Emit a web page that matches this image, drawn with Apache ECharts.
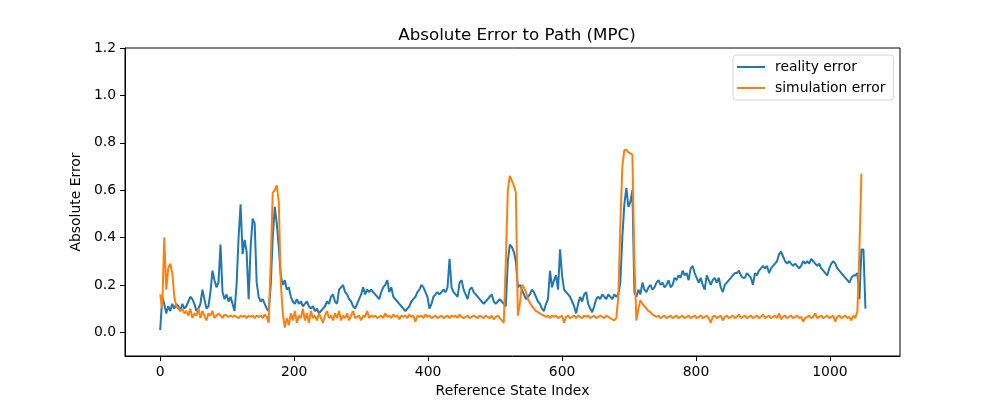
<!DOCTYPE html>
<html>
<head>
<meta charset="utf-8">
<script src="https://cdn.jsdelivr.net/npm/echarts@6/dist/echarts.min.js"></script>
<style>html,body{margin:0;padding:0;background:#fff}#c{width:1000px;height:400px}</style>
</head>
<body>
<div id="c"></div>
<script>
const STEP = 3; // index spacing between sampled points (0,3,6,...)
const xTicks = [0, 200, 400, 600, 800, 1000];
const yTicks = [0.0, 0.2, 0.4, 0.6, 0.8, 1.0, 1.2];
const seriesNames = ['reality error', 'simulation error'];

const realityError = [
0.01,0.15,0.12,0.08,0.11,0.09,0.12,0.10,0.12,0.11,0.09,0.12,0.10,0.11,0.13,0.15,0.14,0.12,0.09,0.10,
0.12,0.18,0.14,0.10,0.11,0.17,0.26,0.22,0.19,0.21,0.37,0.17,0.14,0.16,0.13,0.15,0.12,0.09,0.20,0.40,
0.54,0.33,0.39,0.34,0.14,0.36,0.48,0.46,0.21,0.15,0.13,0.14,0.12,0.10,0.09,0.20,0.40,0.53,0.46,0.36,
0.24,0.20,0.22,0.18,0.19,0.15,0.13,0.12,0.14,0.12,0.13,0.11,0.12,0.13,0.11,0.10,0.11,0.09,0.10,0.08,
0.09,0.10,0.11,0.13,0.12,0.15,0.16,0.13,0.12,0.18,0.19,0.20,0.17,0.16,0.14,0.13,0.11,0.10,0.12,0.14,
0.16,0.19,0.16,0.18,0.17,0.18,0.17,0.16,0.15,0.14,0.17,0.19,0.20,0.22,0.17,0.19,0.15,0.14,0.13,0.12,
0.11,0.10,0.09,0.10,0.11,0.13,0.14,0.15,0.17,0.18,0.20,0.19,0.17,0.15,0.10,0.12,0.15,0.16,0.17,0.16,
0.17,0.18,0.17,0.19,0.31,0.19,0.17,0.16,0.15,0.21,0.22,0.18,0.16,0.14,0.18,0.19,0.17,0.16,0.15,0.14,
0.13,0.12,0.13,0.14,0.15,0.16,0.13,0.12,0.13,0.14,0.13,0.12,0.11,0.30,0.37,0.36,0.34,0.30,0.19,0.20,
0.18,0.16,0.14,0.15,0.16,0.18,0.17,0.15,0.13,0.12,0.10,0.09,0.12,0.14,0.26,0.19,0.22,0.24,0.18,0.35,
0.24,0.18,0.17,0.16,0.15,0.13,0.11,0.08,0.12,0.15,0.13,0.16,0.17,0.12,0.10,0.085,0.11,0.14,0.15,0.14,
0.16,0.15,0.14,0.16,0.15,0.14,0.16,0.15,0.16,0.21,0.40,0.54,0.61,0.53,0.55,0.60,0.17,0.15,0.18,0.16,
0.21,0.18,0.17,0.19,0.20,0.18,0.19,0.21,0.22,0.20,0.21,0.19,0.20,0.22,0.19,0.20,0.23,0.22,0.24,0.23,
0.26,0.24,0.25,0.22,0.27,0.28,0.25,0.23,0.21,0.23,0.20,0.18,0.24,0.22,0.20,0.22,0.23,0.21,0.23,0.19,
0.17,0.20,0.21,0.22,0.23,0.24,0.25,0.25,0.26,0.24,0.23,0.23,0.25,0.24,0.23,0.20,0.25,0.24,0.26,0.27,
0.28,0.27,0.28,0.25,0.27,0.28,0.29,0.30,0.33,0.34,0.32,0.30,0.29,0.30,0.29,0.28,0.29,0.28,0.27,0.28,
0.30,0.29,0.30,0.29,0.31,0.30,0.29,0.28,0.29,0.27,0.26,0.25,0.24,0.27,0.29,0.30,0.29,0.27,0.26,0.25,
0.24,0.23,0.22,0.21,0.23,0.24,0.24,0.25,0.14,0.35,0.35,0.10
];

const simulationError = [
0.16,0.10,0.40,0.18,0.27,0.29,0.25,0.15,0.11,0.10,0.09,0.10,0.08,0.09,0.07,0.10,0.06,0.08,0.07,0.10,
0.06,0.09,0.07,0.05,0.08,0.07,0.09,0.06,0.07,0.08,0.07,0.06,0.075,0.07,0.065,0.07,0.065,0.07,0.065,0.06,
0.07,0.065,0.07,0.06,0.07,0.065,0.07,0.06,0.07,0.065,0.07,0.06,0.075,0.065,0.04,0.30,0.59,0.60,0.62,0.55,
0.21,0.08,0.02,0.06,0.03,0.08,0.05,0.09,0.04,0.07,0.06,0.10,0.05,0.08,0.04,0.09,0.06,0.07,0.05,0.08,
0.06,0.04,0.07,0.09,0.06,0.07,0.05,0.08,0.06,0.09,0.05,0.07,0.06,0.08,0.05,0.07,0.09,0.06,0.065,0.07,
0.05,0.07,0.065,0.09,0.06,0.07,0.065,0.07,0.06,0.065,0.07,0.06,0.08,0.065,0.07,0.06,0.075,0.065,0.07,0.055,
0.07,0.065,0.07,0.06,0.075,0.065,0.07,0.045,0.07,0.065,0.07,0.06,0.075,0.065,0.07,0.06,0.065,0.07,0.06,0.065,
0.07,0.06,0.065,0.07,0.06,0.07,0.065,0.07,0.06,0.075,0.065,0.06,0.065,0.07,0.06,0.065,0.07,0.065,0.06,0.07,
0.065,0.06,0.07,0.065,0.06,0.07,0.055,0.065,0.07,0.06,0.05,0.04,0.30,0.60,0.66,0.64,0.62,0.59,0.07,0.12,
0.20,0.19,0.17,0.14,0.125,0.11,0.10,0.09,0.085,0.08,0.075,0.07,0.065,0.07,0.06,0.07,0.065,0.07,0.06,0.065,
0.07,0.04,0.065,0.07,0.06,0.065,0.07,0.06,0.07,0.065,0.06,0.07,0.065,0.07,0.06,0.065,0.07,0.06,0.065,0.07,
0.065,0.06,0.07,0.065,0.06,0.055,0.05,0.06,0.15,0.45,0.70,0.77,0.77,0.76,0.755,0.75,0.30,0.05,0.10,0.135,
0.12,0.11,0.10,0.09,0.085,0.075,0.07,0.065,0.07,0.06,0.065,0.07,0.06,0.065,0.07,0.06,0.065,0.07,0.06,0.065,
0.07,0.06,0.065,0.07,0.06,0.065,0.07,0.06,0.065,0.07,0.06,0.065,0.07,0.06,0.04,0.065,0.07,0.06,0.065,0.07,
0.05,0.065,0.07,0.06,0.065,0.07,0.06,0.065,0.075,0.06,0.065,0.07,0.06,0.065,0.07,0.06,0.065,0.07,0.06,0.065,
0.075,0.06,0.065,0.07,0.06,0.065,0.07,0.06,0.08,0.055,0.065,0.07,0.06,0.065,0.07,0.06,0.065,0.07,0.06,0.065,
0.045,0.06,0.065,0.07,0.06,0.065,0.08,0.06,0.065,0.07,0.06,0.065,0.07,0.06,0.065,0.07,0.045,0.065,0.07,0.06,
0.065,0.07,0.06,0.065,0.05,0.07,0.06,0.09,0.35,0.67
];

const toPairs = arr => arr.map((v, i) => [i * STEP, v]);
const FONT = 'DejaVu Sans';

const chart = echarts.init(document.getElementById('c'), null, {renderer: 'canvas'});
chart.setOption({
  animation: false,
  backgroundColor: '#fff',
  textStyle: {fontFamily: FONT, color: '#000'},
  title: {
    text: 'Absolute Error to Path (MPC)',
    left: 512, top: 22, textAlign: 'center',
    textStyle: {fontFamily: FONT, fontSize: 16.7, fontWeight: 'normal', color: '#000'}
  },
  legend: {
    orient: 'vertical',
    left: 733, top: 55,
    width: 160,
    padding: [5, 8, 5, 4],
    itemGap: 7,
    itemWidth: 28, itemHeight: 14,
    icon: 'path://M0,6 L28,6 L28,8 L0,8 Z',
    backgroundColor: 'rgba(255,255,255,0.8)',
    borderColor: '#d6d6d6', borderWidth: 1, borderRadius: 3,
    textStyle: {fontFamily: FONT, fontSize: 13.9, color: '#000', padding: [0, 0, 0, 5]},
    data: seriesNames
  },
  grid: {left: 125, right: 100, top: 48, bottom: 44, show: true, borderColor: '#000', borderWidth: 1,
         backgroundColor: 'transparent', containLabel: false, outerBoundsMode: 'none'},
  xAxis: {
    type: 'value', min: -52.6, max: 1104.6,
    name: 'Reference State Index', nameLocation: 'middle', nameGap: 28,
    nameTextStyle: {fontFamily: FONT, fontSize: 13.9, color: '#000'},
    splitLine: {show: false},
    axisLine: {show: true, onZero: false, lineStyle: {color: '#000', width: 1}},
    axisTick: {show: true, length: 5, lineStyle: {color: '#000'}, customValues: xTicks},
    axisLabel: {fontFamily: FONT, fontSize: 13.9, color: '#000', margin: 9, customValues: xTicks, formatter: v => String(v)}
  },
  yAxis: {
    type: 'value', min: -0.1, max: 1.2,
    name: 'Absolute Error', nameLocation: 'middle', nameGap: 37, nameRotate: 90,
    nameTextStyle: {fontFamily: FONT, fontSize: 13.9, color: '#000'},
    splitLine: {show: false},
    axisLine: {show: true, onZero: false, lineStyle: {color: '#000', width: 1}},
    axisTick: {show: true, length: 5, lineStyle: {color: '#000'}, customValues: yTicks},
    axisLabel: {fontFamily: FONT, fontSize: 13.9, color: '#000', margin: 9, customValues: yTicks, formatter: v => Number(v).toFixed(1)}
  },
  series: [
    {name: seriesNames[0], type: 'line', data: toPairs(realityError), showSymbol: false, symbol: 'none',
     lineStyle: {color: '#1f77b4', width: 2}, itemStyle: {color: '#1f77b4'}, z: 2},
    {name: seriesNames[1], type: 'line', data: toPairs(simulationError), showSymbol: false, symbol: 'none',
     lineStyle: {color: '#ff7f0e', width: 2}, itemStyle: {color: '#ff7f0e'}, z: 3}
  ]
});
</script>
</body>
</html>
